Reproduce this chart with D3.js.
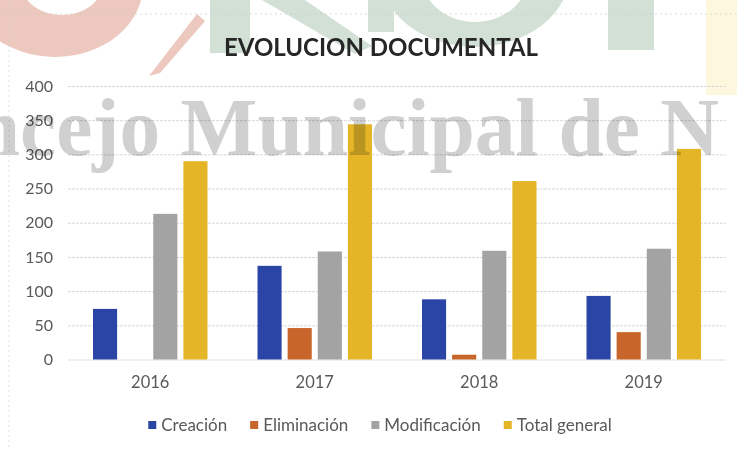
<!DOCTYPE html>
<html><head><meta charset="utf-8">
<script src="https://cdn.jsdelivr.net/npm/d3@7"></script>
<style>html,body{margin:0;padding:0;background:#fff;} svg{display:block}</style>
</head><body>
<svg id="chart" width="737" height="450"></svg>
<script>
// ---- data ----
const years = ["2016", "2017", "2018", "2019"];
const seriesNames = ["Creación", "Eliminación", "Modificación", "Total general"];
const creacion = [74, 137, 88, 93];
const eliminacion = [0, 46, 7, 40];
const modificacion = [213, 158, 159, 162];
const totalGeneral = [290, 344, 261, 308];
const yTicks = [0, 50, 100, 150, 200, 250, 300, 350, 400];
const chartTitle = "EVOLUCION DOCUMENTAL";
const watermarkText = "Concejo Municipal de N";
const colors = ["#2b45a6", "#c7652a", "#a3a3a3", "#e3b527"];

const seriesValues = [creacion, eliminacion, modificacion, totalGeneral];
const rows = years.map((y, i) => ({year: y, values: seriesNames.map((s, j) => ({key: s, value: seriesValues[j][i], color: colors[j]}))}));

const svg = d3.select("#chart");
const W = 737, H = 450;
const m = {left: 68, right: 11, top: 86, bottom: 90.5};
const sans = "Lato, 'Open Sans', sans-serif";

// ---- faint logo watermark shapes (background) ----
const bg = svg.append("g").attr("class", "logo");
const pink = "#edc8be";
bg.append("path")
  .attr("fill", pink).attr("fill-rule", "evenodd")
  .attr("d", "M-33,-15 a88,72 0 1,0 176,0 a88,72 0 1,0 -176,0 Z M22,-15 a40,30 0 1,0 80,0 a40,30 0 1,0 -80,0 Z");
bg.append("path").attr("fill", pink)
  .attr("d", "M197,14 L205,21 L160,73 L149,76 Z");
const green = "#d3e0d6";
bg.append("rect").attr("x", 210).attr("y", 0).attr("width", 40).attr("height", 53).attr("fill", green);
bg.append("path").attr("fill", green).attr("d", "M262,0 L305,0 L372,46 L355,54 Z");
bg.append("rect").attr("x", 368).attr("y", 0).attr("width", 26).attr("height", 32).attr("fill", green);
bg.append("path")
  .attr("fill", green).attr("fill-rule", "evenodd")
  .attr("d", "M380,-28 a95,75 0 1,0 190,0 a95,75 0 1,0 -190,0 Z M420,-28 a55,50 0 1,0 110,0 a55,50 0 1,0 -110,0 Z");
bg.append("rect").attr("x", 608).attr("y", 0).attr("width", 46).attr("height", 50).attr("fill", green);
bg.append("rect").attr("x", 706).attr("y", 0).attr("width", 31).attr("height", 95).attr("fill", "#fdf7de");

// faint frame traces
svg.append("line").attr("x1", 0).attr("x2", W).attr("y1", 14).attr("y2", 14)
  .attr("stroke", "#cccccc").attr("stroke-dasharray", "2,3").attr("stroke-width", 0.7);
svg.append("line").attr("x1", 9).attr("x2", 9).attr("y1", 0).attr("y2", H)
  .attr("stroke", "#d2d2d2").attr("stroke-dasharray", "2,3").attr("stroke-width", 0.7);

// ---- scales ----
const x0 = d3.scaleBand().domain(years).range([m.left, W - m.right]).padding(0);
const x1 = d3.scaleBand().domain(seriesNames).range([25, x0.bandwidth() - 25]).paddingInner(0.2);
const y = d3.scaleLinear().domain([0, 400]).range([H - m.bottom, m.top]);

// ---- gridlines + y labels ----
const yAxis = svg.append("g").attr("transform", `translate(${m.left},0)`)
  .call(d3.axisLeft(y).tickValues(yTicks).tickSize(-(W - m.right - m.left)).tickPadding(15));
yAxis.select(".domain").remove();
yAxis.selectAll(".tick line").attr("stroke", "#d9d9d9").attr("stroke-width", 1).attr("stroke-dasharray", "3,1");
yAxis.selectAll(".tick text").attr("fill", "#595959").attr("font-family", sans).attr("font-size", 16);

// ---- bars ----
const groups = svg.append("g").selectAll("g").data(rows).join("g")
  .attr("transform", d => `translate(${x0(d.year)},0)`);
groups.selectAll("rect").data(d => d.values).join("rect")
  .attr("x", d => x1(d.key))
  .attr("width", x1.bandwidth())
  .attr("y", d => y(d.value))
  .attr("height", d => y(0) - y(d.value))
  .attr("fill", d => d.color);

// ---- x labels ----
const xAxis = svg.append("g").attr("transform", `translate(0,${y(0)})`)
  .call(d3.axisBottom(x0).tickSize(0).tickPadding(17));
xAxis.select(".domain").remove();
xAxis.selectAll(".tick text").attr("fill", "#595959").attr("font-family", sans).attr("font-size", 16.5);

// ---- title ----
svg.append("text").attr("x", 381).attr("y", 56).attr("text-anchor", "middle")
  .attr("font-family", sans).attr("font-weight", "bold")
  .attr("font-size", 24).attr("fill", "#262626").text(chartTitle);

// ---- legend ----
const legend = svg.append("g");
const items = legend.selectAll("g").data(seriesNames).join("g");
items.append("rect").attr("width", 8).attr("height", 8).attr("y", -4)
  .attr("fill", (d, i) => colors[i]);
items.append("text").attr("x", 13).attr("dy", "0.35em")
  .attr("font-family", sans).attr("font-size", 17)
  .attr("fill", "#595959").text(d => d);
let cx = 0; const gap = 23; const offs = [];
items.each(function () { offs.push(cx); cx += this.getBBox().width + gap; });
const totalW = cx - gap;
items.attr("transform", (d, i) => `translate(${offs[i]},0)`);
legend.attr("transform", `translate(${380 - totalW / 2},425)`);

// ---- overlaid serif watermark text ----
const wm = svg.append("g").style("mix-blend-mode", "multiply");
const wt = wm.append("text")
  .attr("font-family", "'Liberation Serif', 'DejaVu Serif', serif").attr("font-weight", "bold")
  .attr("font-size", 60).attr("fill", "#d0d0d0").text(watermarkText);
const node = wt.node();
const i0 = watermarkText.indexOf("cejo");
const iDe = watermarkText.indexOf(" de") + 3;
const midW = node.getSubStringLength(i0, iDe - i0);
const fs = 60 * 620 / midW;
wt.attr("font-size", fs);
const pre = node.getSubStringLength(0, i0);
wt.attr("x", 20 - pre).attr("y", 155);
</script>
</body></html>
